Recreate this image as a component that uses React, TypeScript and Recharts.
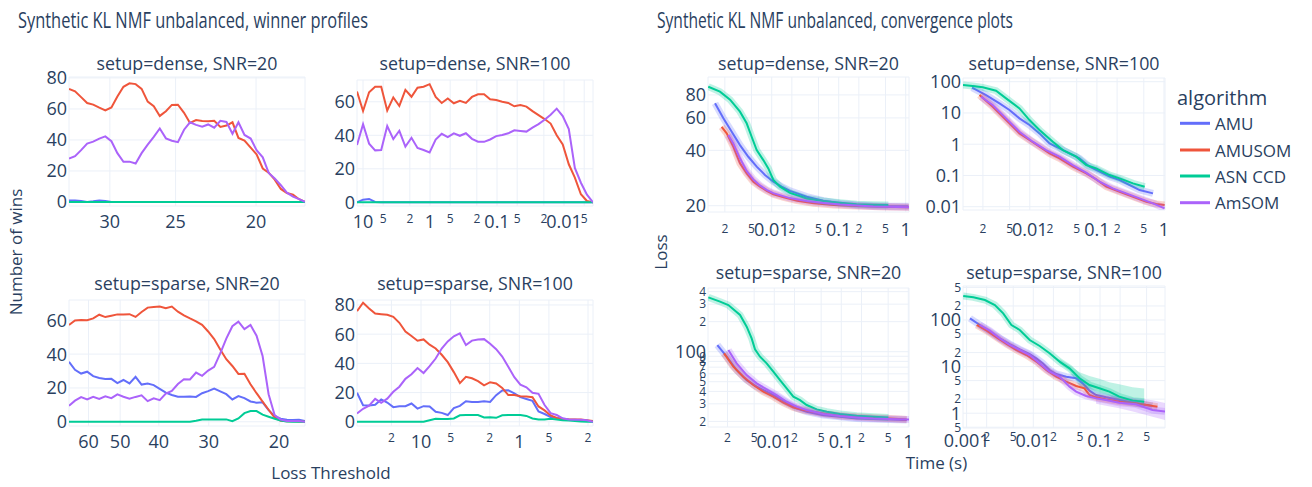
import { ComposedChart, Line, Area, XAxis, YAxis, CartesianGrid } from "recharts";

const FONT = '"Open Sans", verdana, arial, sans-serif';
const INK = "#2a3f5f";
const GRID = "#ebf0f8";

const ALGORITHMS = ["AMU", "AMUSOM", "ASN CCD", "AmSOM"];
const COLORS = ["#636efa", "#EF553B", "#00cc96", "#ab63fa"];

// ---------- winner profiles: number of wins per loss threshold ----------

// dense, SNR=20
const tlThreshold = [33.6, 33.04, 32.49, 31.95, 31.42, 30.89, 30.38, 29.87, 29.38, 28.89, 28.41, 27.93, 27.47, 27.01, 26.56, 26.12, 25.68, 25.26, 24.84, 24.42, 24.02, 23.62, 23.22, 22.84, 22.46, 22.08, 21.71, 21.35, 21.0, 20.65, 20.3, 19.97, 19.63, 19.31, 18.99, 18.67, 18.36, 18.05, 17.75, 17.46];
const tlAMU = [1, 1, 0.6, 0, 0.4, 1, 0.6, 0, 0, 0, 0, 0, 0, 0, 0, 0, 0, 0, 0, 0, 0, 0, 0, 0, 0, 0, 0, 0, 0, 0, 0, 0, 0, 0, 0, 0, 0, 0, 0, 0];
const tlAMUSOM = [72.9, 71.4, 67.6, 63.8, 62.8, 60.8, 59.1, 61, 68, 74.3, 76.5, 76, 72.9, 64.7, 61.7, 55.5, 58.5, 62.6, 62.7, 57.5, 51, 52.8, 52.2, 52, 52.4, 48.4, 49.3, 51.4, 41.3, 39.6, 35, 30.7, 21.6, 18.9, 14.4, 8.4, 5.8, 4.7, 1.8, 0];
const tlASN = [0, 0, 0, 0, 0, 0, 0, 0, 0, 0, 0, 0, 0, 0, 0, 0, 0, 0, 0, 0, 0, 0, 0, 0, 0, 0, 0, 0, 0, 0, 0, 0, 0, 0, 0, 0, 0, 0, 0, 0];
const tlAmSOM = [28, 29.5, 33.4, 37.7, 38.9, 40.9, 42.3, 39.2, 31.5, 25.9, 26, 24.8, 31.5, 37, 42, 47.4, 41, 39.5, 38.6, 46.6, 51.4, 49.7, 48.5, 50, 47.9, 52.3, 51.6, 44, 51.4, 43.2, 40.9, 33.4, 28.8, 18.7, 15.1, 10.8, 6, 3.4, 1.8, 0];

// dense, SNR=100
const trThreshold = [12.29, 9.98, 8.11, 6.59, 5.35, 4.35, 3.53, 2.87, 2.33, 1.89, 1.536, 1.248, 1.014, 0.8232, 0.6688, 0.5431, 0.4412, 0.3583, 0.2911, 0.2364, 0.192, 0.156, 0.1267, 0.1029, 0.08359, 0.0679, 0.05515, 0.0448, 0.03638, 0.02955, 0.02401, 0.0195, 0.01584, 0.01286, 0.01045, 0.008486, 0.006893, 0.005599, 0.004548, 0.003694];
const trAMU = [0, 1.6, 2, 0.2, 0, 0, 0, 0, 0, 0, 0, 0, 0, 0, 0, 0, 0, 0, 0, 0, 0, 0, 0, 0, 0, 0, 0, 0, 0, 0, 0, 0, 0, 0, 0, 0, 0, 0, 0, 0];
const trAMUSOM = [66.1, 54.5, 65.7, 69, 69, 54.8, 62.6, 57.5, 67.1, 63, 68.4, 69, 70.5, 62.9, 59.3, 62, 59.1, 60.6, 59.3, 62.9, 64.5, 64.5, 61.5, 61, 60, 59.3, 57.3, 58, 57.1, 54.4, 52, 49.7, 47, 40, 34.6, 22.7, 14.7, 4.8, 0.8, 0];
const trASN = [0, 0, 0, 0, 0, 0, 0, 0, 0, 0, 0, 0, 0, 0, 0, 0, 0, 0, 0, 0, 0, 0, 0, 0, 0, 0, 0, 0, 0, 0, 0, 0, 0, 0, 0, 0, 0, 0, 0, 0];
const trAmSOM = [34.2, 46.6, 35, 31, 31.2, 45.5, 37.7, 42.7, 33.2, 38.5, 32.4, 31.2, 29.8, 37.4, 40.9, 38.9, 41.2, 39.7, 41.2, 37.9, 36.2, 36.1, 37.5, 39.5, 40.2, 41.2, 43, 42.6, 42.2, 44.6, 46.7, 49.3, 52.3, 55.9, 51.5, 43.7, 20.5, 11.7, 4.6, 0];

// sparse, SNR=20
const blThreshold = [67.14, 64.86, 62.62, 60.47, 58.4, 56.4, 54.46, 52.6, 50.8, 49.06, 47.38, 45.75, 44.19, 42.67, 41.21, 39.8, 38.43, 37.12, 35.84, 34.62, 33.43, 32.28, 31.18, 30.11, 29.08, 28.08, 27.12, 26.19, 25.29, 24.43, 23.59, 22.78, 22.0, 21.25, 20.52, 19.82, 19.13, 18.48, 17.84, 17.23];
const blAMU = [35.5, 30.7, 28.5, 29.6, 27, 25.9, 25.3, 25.4, 22.9, 24.7, 22.7, 26.6, 22, 22.6, 21.7, 19.5, 17.2, 15.8, 14.8, 14.8, 14.9, 14.7, 16.9, 18.1, 19.6, 18, 16.3, 13.2, 15.2, 14, 12, 11.3, 11.5, 6.9, 3.3, 1.8, 1.2, 1.1, 1.2, 0.5];
const blAMUSOM = [57.2, 59.9, 60.2, 60, 61.1, 63.3, 61.9, 62.7, 63.5, 63.5, 63.6, 62, 64.9, 67.5, 67.9, 68.1, 67.1, 68.1, 65.1, 62.9, 61.1, 59.4, 57.3, 53.4, 48.9, 42.8, 37, 33, 28.3, 28.4, 22.2, 16.9, 11.9, 7.1, 2.4, 0.6, 0.3, 0.3, 0.2, 0];
const blASN = [0, 0, 0, 0, 0, 0, 0, 0, 0, 0, 0, 0, 0, 0, 0, 0, 0, 0, 0, 0, 0, 0.6, 1.4, 1.4, 1.4, 1.4, 1.4, 0.4, 2, 5.1, 6.3, 6.3, 4.2, 3, 1.8, 0.8, 0.2, 0, 0, 0];
const blAmSOM = [9.5, 12.5, 14.6, 13.2, 14.8, 13.5, 15, 14, 16.2, 14.8, 13.7, 14.7, 15.6, 12.2, 13.9, 12.8, 16.7, 18.3, 22.3, 25.1, 25, 29.1, 27.2, 30.3, 32.5, 40.4, 49.2, 56.5, 59.2, 54.8, 57.2, 50.9, 38.9, 16.3, 3.9, 1.3, 0.5, 0.5, 0.5, 0];

// sparse, SNR=100
const brThreshold = [44.81, 38.88, 33.75, 29.28, 25.42, 22.05, 19.14, 16.61, 14.41, 12.51, 10.86, 9.424, 8.177, 7.098, 6.16, 5.346, 4.638, 4.025, 3.493, 3.032, 2.632, 2.284, 1.982, 1.72, 1.493, 1.295, 1.124, 0.9756, 0.8467, 0.7348, 0.6377, 0.5535, 0.4803, 0.4168, 0.3618, 0.3139, 0.2724, 0.2364, 0.2052, 0.178];
const brAMU = [19.9, 11.3, 11.2, 11.7, 15.3, 13.2, 10, 10.6, 10.7, 12.5, 9, 10.7, 10.5, 6.8, 6.1, 4.6, 9.3, 10.9, 14.1, 13.5, 13.5, 14.1, 13.6, 18.2, 21.4, 21.5, 19.5, 16.9, 15.6, 14.3, 7, 5.3, 3.3, 2.6, 2, 1.6, 1.4, 1.1, 0.7, 0];
const brAMUSOM = [75.8, 81.5, 77.6, 74.1, 73.7, 73.3, 71.9, 67.8, 61.8, 58.7, 55.5, 56.4, 52.8, 50.2, 45.9, 40.8, 34, 26.5, 30.8, 29.8, 27.8, 24.9, 27.1, 26.2, 23.2, 18.3, 18.3, 17.5, 17.3, 16.8, 10.5, 7.8, 4.3, 2.6, 1.7, 1.6, 1.6, 1.6, 1.1, 0.5];
const brASN = [0, 0, 0, 0, 0, 0, 0, 0, 0, 0, 0, 0, 1.1, 2.1, 1.9, 1.9, 2.3, 4.4, 4.6, 4.6, 4.6, 3, 3.1, 2.7, 4.4, 4.6, 4.6, 4.6, 4, 2.3, 1.6, 1.6, 2, 1.6, 1.1, 0.8, 0.5, 0.2, 0, 0];
const brAmSOM = [5.7, 8.9, 11, 15.7, 13, 15.8, 20.5, 24, 29.4, 32.5, 36.8, 33.4, 38.1, 43.3, 50.2, 55, 58.5, 60.5, 52.5, 55.6, 56.4, 56.6, 53.4, 49.7, 44.7, 37.7, 30.5, 25.4, 23.6, 19.9, 19.1, 11.5, 5.9, 4.6, 2.4, 1.6, 1.4, 1.3, 1, 0];

// ---------- convergence: loss against time (s) ----------

// dense, SNR=20
const ctlAMUTime = [0.001425, 0.0019, 0.00253, 0.00336, 0.00448, 0.00597, 0.00794, 0.01058, 0.01409, 0.01875, 0.0333, 0.059, 0.1046, 0.1854, 0.3288, 0.583, 1.1];
const ctlAMULoss = [72, 59.7, 50.5, 42.7, 36.9, 32.6, 29.4, 27, 25.4, 24.1, 22.4, 21.3, 20.6, 20.17, 20, 19.9, 19.85];
const ctlAMUSOMTime = [0.00179, 0.00213, 0.00268, 0.00336, 0.00423, 0.00532, 0.00669, 0.00841, 0.01058, 0.0151, 0.0239, 0.0423, 0.0841, 0.1854, 0.4135, 1.12];
const ctlAMUSOMLoss = [53.7, 49.5, 41.8, 34, 30, 27, 25.4, 24.1, 23.1, 22.2, 21.3, 20.6, 20.17, 19.9, 19.75, 19.6];
const ctlASNTime = [0.00113, 0.00169, 0.00239, 0.00336, 0.00423, 0.00502, 0.00597, 0.0075, 0.0089, 0.01058, 0.0133, 0.01875, 0.0333, 0.059, 0.1046, 0.1854, 0.3288, 0.5506];
const ctlASNLoss = [88.7, 83.3, 75.4, 64.9, 56.1, 47.4, 40.1, 35.4, 31.9, 27.6, 25.4, 23.5, 21.9, 21.2, 20.76, 20.4, 20.25, 20.17];
const ctlAmSOMTime = [0.00225, 0.00268, 0.00336, 0.00423, 0.00532, 0.00669, 0.00841, 0.01058, 0.01875, 0.0333, 0.059, 0.1046, 0.3288, 1.12];
const ctlAmSOMLoss = [48.4, 43.6, 36.2, 30.9, 27.8, 25.8, 24.4, 23.4, 22, 21.2, 20.7, 20.3, 19.8, 19.6];

// dense, SNR=100
const ctrAMUTime = [0.001378, 0.00223, 0.00353, 0.00497, 0.00701, 0.00989, 0.01394, 0.01966, 0.0277, 0.0391, 0.0551, 0.0777, 0.1096, 0.1545, 0.218, 0.307, 0.433, 0.685];
const ctrAMULoss = [64.3, 37.4, 20.3, 12.4, 6.71, 4.11, 2.22, 1.06, 0.735, 0.509, 0.352, 0.1905, 0.132, 0.0912, 0.0713, 0.0494, 0.0341, 0.0267];
const ctrAMUSOMTime = [0.00178, 0.0028, 0.00443, 0.00701, 0.00989, 0.01394, 0.01966, 0.0277, 0.0438, 0.0693, 0.0977, 0.1378, 0.218, 0.345, 0.545, 0.768, 1.02];
const ctrAMUSOMLoss = [37.4, 15.8, 5.93, 2.22, 1.36, 0.832, 0.509, 0.352, 0.1905, 0.1166, 0.0749, 0.0437, 0.0302, 0.0209, 0.01445, 0.01217, 0.0113];
const ctrASNTime = [0.00101, 0.00141, 0.00199, 0.00314, 0.00443, 0.00701, 0.00989, 0.01394, 0.02204, 0.0311, 0.0491, 0.0693, 0.0977, 0.1545, 0.218, 0.345, 0.515];
const ctrASNLoss = [78.3, 72.6, 65.9, 51.5, 29.3, 14, 5.93, 2.84, 1.2, 0.65, 0.398, 0.215, 0.168, 0.103, 0.0806, 0.0558, 0.0437];
const ctrAmSOMTime = [0.00188, 0.0028, 0.00443, 0.00701, 0.01109, 0.01753, 0.0277, 0.0438, 0.0693, 0.1096, 0.173, 0.274, 0.433, 0.685, 1.02];
const ctrAmSOMLoss = [33.1, 17.9, 6.71, 2.51, 1.2, 0.65, 0.398, 0.215, 0.1225, 0.063, 0.0386, 0.0267, 0.0185, 0.0128, 0.00885];

// sparse, SNR=20
const cblAMUTime = [0.001412, 0.00195, 0.00274, 0.00387, 0.00546, 0.00769, 0.01083, 0.0153, 0.0216, 0.0304, 0.0539, 0.0956, 0.1696, 0.3007, 0.946];
const cblAMULoss = [116.7, 89.1, 65.5, 51.9, 44.6, 39.7, 35.4, 30.8, 27, 25, 23.1, 22.3, 21.4, 21.1, 20.6];
const cblAMUSOMTime = [0.00178, 0.00245, 0.00345, 0.00487, 0.00686, 0.00967, 0.01363, 0.01924, 0.0271, 0.0382, 0.0605, 0.0956, 0.1696, 0.3007, 0.533, 0.946];
const cblAMUSOMLoss = [96.2, 70.7, 56.1, 46.3, 39.7, 35.4, 30.8, 27.6, 26, 25, 23.7, 22.8, 22.3, 21.8, 21.4, 20.9];
const cblASNTime = [0.001036, 0.00155, 0.00206, 0.00308, 0.00387, 0.00459, 0.00515, 0.00612, 0.00769, 0.00967, 0.01216, 0.0153, 0.01924, 0.0242, 0.0304, 0.0429, 0.0605, 0.0956, 0.1696, 0.3007, 0.5035];
const cblASNLoss = [351, 317.5, 293.9, 233.3, 178.2, 136.1, 105.5, 89.1, 76.4, 63, 51.9, 42.9, 35.4, 32.7, 29.2, 26.4, 25, 23.7, 22.8, 22.3, 21.9];
const cblAmSOMTime = [0.00206, 0.00274, 0.00387, 0.00546, 0.00769, 0.01083, 0.0153, 0.0216, 0.0304, 0.0539, 0.0956, 0.1696, 0.3007, 0.533, 1.024];
const cblAmSOMLoss = [103.9, 76.4, 58.3, 48.1, 41.9, 36.7, 31.5, 28.1, 26, 23.7, 22.6, 21.9, 21.4, 21.1, 20.9];

// sparse, SNR=100
const cbrAMUTime = [0.001124, 0.001581, 0.00223, 0.003153, 0.004442, 0.006261, 0.00883, 0.0111, 0.01397, 0.01755, 0.02207, 0.03117, 0.04387, 0.0552, 0.06946, 0.08729, 0.1231, 0.1947, 0.3455, 0.6124];
const cbrAMULoss = [108.6, 78.1, 56.2, 40.4, 30.5, 23.5, 18.6, 15, 11.7, 8.45, 6.94, 6.08, 5.61, 4.37, 3.04, 2.46, 2.19, 1.92, 1.63, 1.43];
const cbrAMUSOMTime = [0.001417, 0.001993, 0.002806, 0.003958, 0.005585, 0.007879, 0.0111, 0.01566, 0.02207, 0.03117, 0.04387, 0.0585, 0.06946, 0.08729, 0.1231, 0.1947, 0.3455, 0.6124, 0.7266];
const cbrAMUSOMLoss = [78.1, 59, 42.5, 30.5, 22.7, 17.7, 12.8, 8.45, 6.08, 4.75, 3.83, 3.42, 2.46, 2.19, 1.98, 1.77, 1.63, 1.43, 1.38];
const cbrASNTime = [0.00089, 0.00126, 0.001881, 0.002651, 0.003537, 0.004698, 0.006261, 0.00883, 0.01246, 0.01755, 0.02477, 0.03491, 0.04926, 0.06946, 0.09789, 0.138, 0.1947, 0.308, 0.4597];
const cbrASNLoss = [327, 306.4, 268.7, 209.9, 139, 78.1, 61, 37.2, 27.7, 19.3, 12.8, 9.18, 5.61, 4.03, 3.42, 2.9, 2.26, 1.86, 1.77];
const cbrAmSOMTime = [0.001581, 0.00223, 0.003153, 0.004442, 0.006261, 0.00883, 0.01246, 0.01755, 0.02477, 0.03491, 0.04387, 0.06188, 0.08729, 0.1231, 0.1947, 0.3455, 0.6124, 0.943];
const cbrAmSOMLoss = [78.1, 59, 40.4, 29.1, 22.7, 17.7, 11.7, 7.78, 6.08, 3.71, 2.9, 2.34, 2.08, 1.92, 1.68, 1.55, 1.17, 1.08];

// spread bands where the runs disagree most
const cbrASNBandTime = [0.02477, 0.03491, 0.04926, 0.06946, 0.09789, 0.138, 0.1947, 0.308, 0.4597];
const cbrASNBandLow = [11.5, 8, 3.9, 3, 2.5, 2.3, 2, 1.65, 1.6];
const cbrASNBandHigh = [14.5, 10.8, 7.6, 6.3, 5.5, 4.6, 4.2, 3.6, 3.4];
const cbrAmSOMBandTime = [0.08729, 0.1231, 0.1947, 0.3455, 0.6124, 0.943];
const cbrAmSOMBandLow = [1.6, 1.45, 1.27, 1.05, 0.84, 0.71];
const cbrAmSOMBandHigh = [2.5, 2.4, 2.3, 2.1, 1.9, 1.65];

// ---------- axis ticks ----------
const logTicks = [0.001, 0.002, 0.005, 0.01, 0.02, 0.05, 0.1, 0.2, 0.5, 1, 2, 5, 10, 20, 50, 100, 200, 500];
const decadeTicks = [0.001, 0.01, 0.1, 1, 10, 100];
const tlTicks = [20, 25, 30];
const blTicks = [20, 30, 40, 50, 60];
const winsTicks = [0, 20, 40, 60, 80];
const ctlLossTicks = [20, 40, 60, 80];
const cblLossTicks = [20, 30, 40, 50, 60, 70, 80, 90, 100, 200, 300, 400];

type Pt = { t: number; y: number };
type BandPt = { t: number; band: [number, number] };
type Curve = { color: string; pts: Pt[]; band?: BandPt[] };

const zip = (ts: number[], ys: number[]): Pt[] => ts.map((t, i) => ({ t, y: ys[i] }));
const zipBand = (ts: number[], lo: number[], hi: number[]): BandPt[] =>
  ts.map((t, i) => ({ t, band: [lo[i], hi[i]] as [number, number] }));

const wins = (series: number[][], ts: number[]): Curve[] =>
  series.map((ys, i) => ({ color: COLORS[i], pts: zip(ts, ys) }));
const conv = (pairs: [number[], number[]][]): Curve[] =>
  pairs.map(([ts, ys], i) => ({ color: COLORS[i], pts: zip(ts, ys) }));

const isDecade = (v: number) => Math.abs(Math.log10(v) - Math.round(Math.log10(v))) < 1e-6;
const leadDigit = (v: number) =>
  String(Math.round(v / Math.pow(10, Math.floor(Math.log10(v) + 1e-9))));

const AXIS_W = 60;
const AXIS_H = 50;
const PAD_T = 14;
const PAD_R = 16;

interface PanelProps {
  box: [number, number, number, number]; // plot left, top, width, height
  xDomain: [number, number];
  xTicks: number[];
  xReversed?: boolean;
  xMinor?: boolean;
  xBase: number;
  xMinorBase: number;
  yDomain: [number, number];
  yTicks: number[];
  yLog?: boolean;
  yMinor?: boolean;
  lines: Curve[];
  halo?: boolean;
}

function Panel(props: PanelProps) {
  const { box, xDomain, xTicks, xReversed, xMinor, xBase, xMinorBase, yDomain, yTicks, yLog, yMinor, lines, halo } = props;
  const [left, top, w, h] = box;
  const xt = xTicks.filter((v) => v >= xDomain[0] && v <= xDomain[1]);
  const yt = yTicks.filter((v) => v >= yDomain[0] && v <= yDomain[1]);

  const xTick = (p: any) => {
    const v = p.payload.value as number;
    const small = xMinor && !isDecade(v);
    return (
      <text x={p.x} y={(small ? xMinorBase : xBase) - top + PAD_T} textAnchor="middle" fill={INK}
        fontFamily={FONT} fontSize={small ? 12 : 18}>
        {small ? leadDigit(v) : String(v)}
      </text>
    );
  };
  const yTick = (p: any) => {
    const v = p.payload.value as number;
    const small = yMinor && !isDecade(v);
    return (
      <text x={AXIS_W - 2} y={p.y + (small ? 4.3 : 6.4)} textAnchor="end" fill={INK}
        fontFamily={FONT} fontSize={small ? 12 : 18}>
        {small ? leadDigit(v) : String(v)}
      </text>
    );
  };

  return (
    <div style={{ position: "absolute", left: left - AXIS_W, top: top - PAD_T }}>
      <ComposedChart width={AXIS_W + w + PAD_R} height={PAD_T + h + AXIS_H}
        margin={{ top: PAD_T, right: PAD_R, bottom: 0, left: 0 }}>
        <CartesianGrid stroke={GRID} strokeWidth={1} />
        <XAxis type="number" dataKey="t" scale="log" domain={xDomain} reversed={xReversed}
          allowDataOverflow ticks={xt} interval={0} tick={xTick} axisLine={false} tickLine={false}
          height={AXIS_H} />
        <YAxis type="number" scale={yLog ? "log" : "linear"} domain={yDomain} allowDataOverflow
          ticks={yt} interval={0} tick={yTick} axisLine={false} tickLine={false} width={AXIS_W} />
        {lines.flatMap((c, i) => {
          const out = [];
          if (c.band)
            out.push(
              <Area key={`b${i}`} data={c.band} dataKey="band" stroke="none" fill={c.color}
                fillOpacity={0.25} isAnimationActive={false} />
            );
          if (halo)
            out.push(
              <Line key={`h${i}`} data={c.pts} dataKey="y" stroke={c.color} strokeOpacity={0.25}
                strokeWidth={7} dot={false} activeDot={false} isAnimationActive={false} />
            );
          out.push(
            <Line key={`l${i}`} data={c.pts} dataKey="y" stroke={c.color} strokeWidth={2}
              dot={false} activeDot={false} isAnimationActive={false} />
          );
          return out;
        })}
      </ComposedChart>
    </div>
  );
}

const cbrLines = conv([
  [cbrAMUTime, cbrAMULoss],
  [cbrAMUSOMTime, cbrAMUSOMLoss],
  [cbrASNTime, cbrASNLoss],
  [cbrAmSOMTime, cbrAmSOMLoss],
]);
cbrLines[2].band = zipBand(cbrASNBandTime, cbrASNBandLow, cbrASNBandHigh);
cbrLines[3].band = zipBand(cbrAmSOMBandTime, cbrAmSOMBandLow, cbrAmSOMBandHigh);

export default function App() {
  const txt = { fill: INK, fontFamily: FONT } as const;
  return (
    <div style={{ position: "absolute", left: 0, top: 0, width: 1312, height: 487, background: "#fff", overflow: "hidden" }}>
      {/* winner profiles */}
      <Panel box={[69, 77, 236, 129]} xDomain={[17.46, 33.6]} xTicks={tlTicks} xReversed
        xBase={227.5} xMinorBase={223} yDomain={[-2.6, 80.6]} yTicks={winsTicks}
        lines={wins([tlAMU, tlAMUSOM, tlASN, tlAmSOM], tlThreshold)} />
      <Panel box={[357, 80, 236, 126]} xDomain={[0.003694, 12.29]} xTicks={logTicks} xReversed xMinor
        xBase={227.5} xMinorBase={223} yDomain={[-2.2, 73]} yTicks={winsTicks}
        lines={wins([trAMU, trAMUSOM, trASN, trAmSOM], trThreshold)} />
      <Panel box={[69, 300, 236, 126]} xDomain={[17.23, 67.14]} xTicks={blTicks} xReversed
        xBase={447.5} xMinorBase={442} yDomain={[-2.5, 72]} yTicks={winsTicks}
        lines={wins([blAMU, blAMUSOM, blASN, blAmSOM], blThreshold)} />
      <Panel box={[357, 300, 236, 126]} xDomain={[0.178, 44.81]} xTicks={logTicks} xReversed xMinor
        xBase={447.5} xMinorBase={442} yDomain={[-2.9, 83.4]} yTicks={winsTicks}
        lines={wins([brAMU, brAMUSOM, brASN, brAmSOM], brThreshold)} />

      {/* convergence */}
      <Panel box={[708, 77, 201, 135]} xDomain={[0.00112, 1.12]} xTicks={logTicks} xMinor
        xBase={236} xMinorBase={233} yDomain={[18.49, 100.1]} yTicks={ctlLossTicks} yLog halo
        lines={conv([[ctlAMUTime, ctlAMULoss], [ctlAMUSOMTime, ctlAMUSOMLoss], [ctlASNTime, ctlASNLoss], [ctlAmSOMTime, ctlAmSOMLoss]])} />
      <Panel box={[963, 78, 202, 132]} xDomain={[0.00101, 1.035]} xTicks={logTicks} xMinor
        xBase={236} xMinorBase={233} yDomain={[0.00784, 131.3]} yTicks={decadeTicks} yLog halo
        lines={conv([[ctrAMUTime, ctrAMULoss], [ctrAMUSOMTime, ctrAMUSOMLoss], [ctrASNTime, ctrASNLoss], [ctrAmSOMTime, ctrAmSOMLoss]])} />
      <Panel box={[708, 288, 201, 139]} xDomain={[0.001024, 1.024]} xTicks={logTicks} xMinor
        xBase={448} xMinorBase={442} yDomain={[17.57, 435.4]} yTicks={cblLossTicks} yLog yMinor halo
        lines={conv([[cblAMUTime, cblAMULoss], [cblAMUSOMTime, cblAMUSOMLoss], [cblASNTime, cblASNLoss], [cblAmSOMTime, cblAmSOMLoss]])} />
      <Panel box={[963, 286, 202, 142]} xDomain={[0.000883, 0.943]} xTicks={logTicks} xMinor
        xBase={447} xMinorBase={441} yDomain={[0.481, 536.6]} yTicks={logTicks} yLog yMinor halo
        lines={cbrLines} />

      <svg width={1312} height={487} style={{ position: "absolute", left: 0, top: 0, pointerEvents: "none" }}>
        <text x={18} y={28} fontSize={21} textLength={350} lengthAdjust="spacingAndGlyphs" {...txt}>
          Synthetic KL NMF unbalanced, winner profiles
        </text>
        <text x={657} y={28} fontSize={21} textLength={356} lengthAdjust="spacingAndGlyphs" {...txt}>
          Synthetic KL NMF unbalanced, convergence plots
        </text>

        <g fontSize={17.8} textAnchor="middle" {...txt}>
          <text x={187} y={70}>setup=dense, SNR=20</text>
          <text x={475} y={70}>setup=dense, SNR=100</text>
          <text x={187} y={289.5}>setup=sparse, SNR=20</text>
          <text x={475} y={289.5}>setup=sparse, SNR=100</text>
          <text x={808.5} y={69.5}>setup=dense, SNR=20</text>
          <text x={1064} y={69.5}>setup=dense, SNR=100</text>
          <text x={808.5} y={279}>setup=sparse, SNR=20</text>
          <text x={1064} y={279}>setup=sparse, SNR=100</text>
        </g>

        <g fontSize={17} textAnchor="middle" {...txt}>
          <text transform="translate(22,252) rotate(-90)">Number of wins</text>
          <text x={331} y={479}>Loss Threshold</text>
          <text transform="translate(667,252) rotate(-90)">Loss</text>
          <text x={936.5} y={469}>Time (s)</text>
        </g>

        <text x={1177} y={105} fontSize={20} {...txt}>algorithm</text>
        {ALGORITHMS.map((name, i) => {
          const y = [123.3, 150, 176, 202.7][i];
          return (
            <g key={name}>
              <line x1={1180} x2={1210} y1={y} y2={y} stroke={COLORS[i]} strokeWidth={3} />
              <text x={1215} y={y + 6.5} fontSize={17} {...txt}>{name}</text>
            </g>
          );
        })}
      </svg>
    </div>
  );
}
